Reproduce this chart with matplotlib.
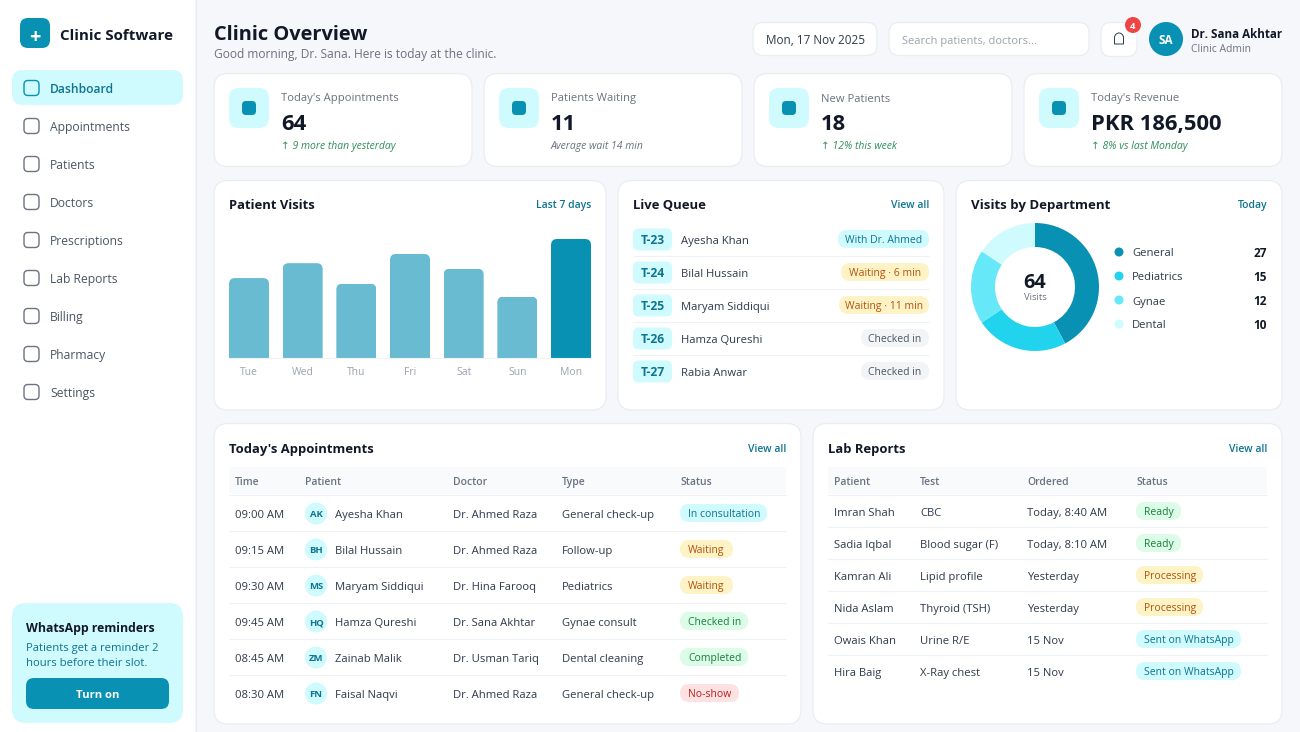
import matplotlib
matplotlib.use("Agg")
import matplotlib.pyplot as plt
from matplotlib.patches import FancyBboxPatch, Circle, PathPatch
from matplotlib.path import Path
from matplotlib.transforms import IdentityTransform

# ---------- data ----------
nav_items = ["Dashboard", "Appointments", "Patients", "Doctors", "Prescriptions",
             "Lab Reports", "Billing", "Pharmacy", "Settings"]
kpi_labels = ["Today's Appointments", "Patients Waiting", "New Patients", "Today's Revenue"]
kpi_values = ["64", "11", "18", "PKR 186,500"]
kpi_notes = ["↑ 9 more than yesterday", "Average wait 14 min", "↑ 12% this week", "↑ 8% vs last Monday"]
visit_days = ["Tue", "Wed", "Thu", "Fri", "Sat", "Sun", "Mon"]
visit_counts = [43, 51, 40, 56, 48, 33, 64]
queue_tokens = ["T-23", "T-24", "T-25", "T-26", "T-27"]
queue_names = ["Ayesha Khan", "Bilal Hussain", "Maryam Siddiqui", "Hamza Qureshi", "Rabia Anwar"]
queue_status = ["With Dr. Ahmed", "Waiting · 6 min", "Waiting · 11 min", "Checked in", "Checked in"]
queue_kind = ["cyan", "amber", "amber", "gray", "gray"]
dept_names = ["General", "Pediatrics", "Gynae", "Dental"]
dept_counts = [27, 15, 12, 10]
appt_headers = ["Time", "Patient", "Doctor", "Type", "Status"]
appt_times = ["09:00 AM", "09:15 AM", "09:30 AM", "09:45 AM", "08:45 AM", "08:30 AM"]
appt_initials = ["AK", "BH", "MS", "HQ", "ZM", "FN"]
appt_patients = ["Ayesha Khan", "Bilal Hussain", "Maryam Siddiqui", "Hamza Qureshi", "Zainab Malik", "Faisal Naqvi"]
appt_doctors = ["Dr. Ahmed Raza", "Dr. Ahmed Raza", "Dr. Hina Farooq", "Dr. Sana Akhtar", "Dr. Usman Tariq", "Dr. Ahmed Raza"]
appt_types = ["General check-up", "Follow-up", "Pediatrics", "Gynae consult", "Dental cleaning", "General check-up"]
appt_status = ["In consultation", "Waiting", "Waiting", "Checked in", "Completed", "No-show"]
appt_kind = ["cyan", "amber", "amber", "green", "green", "red"]
lab_headers = ["Patient", "Test", "Ordered", "Status"]
lab_patients = ["Imran Shah", "Sadia Iqbal", "Kamran Ali", "Nida Aslam", "Owais Khan", "Hira Baig"]
lab_tests = ["CBC", "Blood sugar (F)", "Lipid profile", "Thyroid (TSH)", "Urine R/E", "X-Ray chest"]
lab_ordered = ["Today, 8:40 AM", "Today, 8:10 AM", "Yesterday", "Yesterday", "15 Nov", "15 Nov"]
lab_status = ["Ready", "Ready", "Processing", "Processing", "Sent on WhatsApp", "Sent on WhatsApp"]
lab_kind = ["green", "green", "amber", "amber", "cyan", "cyan"]

# ---------- style ----------
FONT = "Open Sans"
PX = 0.72 * 0.90
BG = "#f5f7fb"; BORDER = "#e9edf3"; INK = "#111827"; BODY = "#2f3a4a"; MUTED = "#6b7280"
TEAL = "#0891b2"; TEAL_D = "#0e7490"; CYAN_L = "#cffafe"; GREEN = "#2f8f5b"
PILLS = {"cyan": ("#cffafe", "#0e7490"), "amber": ("#fef3c7", "#b45309"),
         "green": ("#dcfce7", "#15803d"), "red": ("#fee2e2", "#b91c1c"), "gray": ("#f3f4f6", "#4b5563")}
plt.rcParams["font.family"] = [FONT, "DejaVu Sans"]

fig = plt.figure(figsize=(13, 7.32), dpi=100, facecolor=BG)
ui = fig.add_axes([0, 0, 1, 1], zorder=0)
ui.set_xlim(0, 1300); ui.set_ylim(732, 0); ui.axis("off")


def box(x0, y0, x1, y1, r, fc="white", ec="none", lw=0.0, z=2):
    ui.add_patch(FancyBboxPatch((x0, y0), x1 - x0, y1 - y0,
                                boxstyle=f"round,pad=0,rounding_size={r}",
                                fc=fc, ec=ec, lw=lw, zorder=z))


def T(x, y, s, px=12.5, c=BODY, w="normal", ha="left", style="normal", z=5):
    ui.text(x, y + 0.36 * px, s, fontsize=px * PX, color=c, fontweight=w, ha=ha,
            va="baseline", fontstyle=style, zorder=z)


def card(x0, y0, x1, y1, r=14):
    box(x0, y0, x1, y1, r, fc="white", ec=BORDER, lw=0.9)


def hline(x0, x1, y, c="#eef1f5"):
    ui.plot([x0, x1], [y, y], color=c, lw=0.8, zorder=3, solid_capstyle="butt")


def pill(x0, x1, y, s, kind, px=11.5, text_x=None):
    bg, fg = PILLS[kind]
    box(x0, y - 9, x1, y + 9, 9, fc=bg, z=3)
    if text_x is None:
        T((x0 + x1) / 2, y, s, px, fg, ha="center")
    else:
        T(text_x, y, s, px, fg)


# ---------- sidebar ----------
ui.add_patch(plt.Rectangle((0, 0), 195, 732, fc="white", ec="none", zorder=1))
ui.plot([195.5, 195.5], [0, 732], color=BORDER, lw=0.8, zorder=1)
box(20, 18, 50, 48, 8, fc=TEAL)
T(35, 35, "+", 22, "white", "bold", ha="center")
T(60, 34, "Clinic Software", 16.8, INK, "bold")
box(12, 70, 183, 105, 11, fc=CYAN_L)
for i, name in enumerate(nav_items):
    yc = 88 + i * 38
    active = i == 0
    box(24, yc - 7.5, 39, yc + 7.5, 4, fc="none", ec=TEAL if active else "#6b7280", lw=1.0, z=4)
    T(50, yc, name, 13.5, TEAL_D if active else "#4b5563", "semibold" if active else "normal")
box(12, 603, 183, 723, 14, fc=CYAN_L)
T(26, 627, "WhatsApp reminders", 13.6, INK, "bold")
T(26, 646, "Patients get a reminder 2", 12.5, TEAL_D)
T(26, 661, "hours before their slot.", 12.5, TEAL_D)
box(26, 678, 169, 709, 8, fc=TEAL, z=3)
T(97.5, 693.5, "Turn on", 12.5, "white", "bold", ha="center")

# ---------- header ----------
T(214, 31.5, "Clinic Overview", 22.3, INK, "bold")
T(214, 53, "Good morning, Dr. Sana. Here is today at the clinic.", 13.3, MUTED)
box(753, 22.5, 877, 55.5, 10, ec=BORDER, lw=0.9)
T(815, 39.5, "Mon, 17 Nov 2025", 13, BODY, ha="center")
box(889, 22.5, 1089, 55.5, 10, ec=BORDER, lw=0.9)
T(902, 39.5, "Search patients, doctors...", 12.4, "#9ca3af")
box(1101, 22.5, 1137, 56.5, 10, ec=BORDER, lw=0.9)
bell = Path([(1114.5, 44), (1114.5, 38), (1114.5, 34.5), (1117, 33), (1119, 33), (1121, 33),
             (1123.5, 34.5), (1123.5, 38), (1123.5, 44), (1114.5, 44)],
            [Path.MOVETO, Path.LINETO, Path.CURVE4, Path.CURVE4, Path.CURVE4, Path.CURVE4,
             Path.CURVE4, Path.CURVE4, Path.LINETO, Path.CLOSEPOLY])
ui.add_patch(PathPatch(bell, fc="none", ec=BODY, lw=0.7, zorder=4))
ui.add_patch(Circle((1133, 25), 8, fc="#ef4444", ec="none", zorder=5))
T(1133, 25, "4", 10.5, "white", "bold", ha="center", z=6)
ui.add_patch(Circle((1166, 39), 17, fc=TEAL, ec="none", zorder=4))
T(1166, 39, "SA", 13, "white", "bold", ha="center")
T(1191, 33, "Dr. Sana Akhtar", 12.9, INK, "bold")
T(1191, 48, "Clinic Admin", 11.5, MUTED)

# ---------- KPI cards ----------
for i, x0 in enumerate([214, 484, 754, 1024]):
    card(x0, 73.5, x0 + 258, 166.5)
    box(x0 + 15, 88, x0 + 55, 128, 10, fc=CYAN_L, z=3)
    box(x0 + 28, 101, x0 + 42, 115, 4, fc=TEAL, z=4)
    T(x0 + 67, 97, kpi_labels[i], 12.5, MUTED)
    T(x0 + 67, 121, kpi_values[i], 24.5, INK, "bold")
    note_c = MUTED if i == 1 else GREEN
    T(x0 + 67, 145, kpi_notes[i], 11.5, note_c, style="italic")

# ---------- middle row ----------
card(214, 180.5, 606, 410)
T(229, 204, "Patient Visits", 14.5, INK, "bold")
T(591, 204, "Last 7 days", 11.5, TEAL_D, "semibold", ha="right")
card(618, 180.5, 944, 410)
T(633, 204, "Live Queue", 14.5, INK, "bold")
T(929, 204, "View all", 11.5, TEAL_D, "semibold", ha="right")
card(956, 180.5, 1282, 410)
T(971, 204, "Visits by Department", 14.7, INK, "bold")
T(1267, 204, "Today", 11.5, TEAL_D, "semibold", ha="right")

# bar chart on its own axes
BAR_X0, BAR_X1, BAR_BASE, BAR_TOP = 229, 591, 358, 239
bar_ax = fig.add_axes([BAR_X0 / 1300, 1 - BAR_BASE / 732, (BAR_X1 - BAR_X0) / 1300, (BAR_BASE - BAR_TOP) / 732], zorder=2)
bar_ax.patch.set_alpha(0)
bar_w = 0.745
bars = bar_ax.bar(range(len(visit_days)), visit_counts, width=bar_w,
                  color=["#69bbd1"] * (len(visit_days) - 1) + [TEAL])
bar_ax.set_xlim(-bar_w / 2, len(visit_days) - 1 + bar_w / 2)
bar_ax.set_ylim(0, max(visit_counts))
bar_ax.set_yticks([])
bar_ax.set_xticks(range(len(visit_days)), visit_days, fontsize=11.5 * PX, color="#9ca3af")
bar_ax.tick_params(axis="x", length=0, pad=6.2)
for s in ["top", "left", "right"]:
    bar_ax.spines[s].set_visible(False)
bar_ax.spines["bottom"].set_color("#eef1f5")
bar_ax.spines["bottom"].set_linewidth(0.8)
fig.canvas.draw()
for b in bars:
    e = b.get_window_extent()
    clip = FancyBboxPatch((e.x0, e.y0 - 12), e.width, e.height + 12,
                          boxstyle="round,pad=0,rounding_size=6",
                          transform=IdentityTransform())
    b.set_clip_path(clip)

# live queue
for i in range(len(queue_tokens)):
    yc = 239.5 + i * 33
    box(633, yc - 11, 672, yc + 11, 6, fc=CYAN_L, z=3)
    T(652.5, yc, queue_tokens[i], 13.5, TEAL_D, "bold", ha="center")
    T(681, yc, queue_names[i], 12.5, BODY)
    x_left = [838, 841, 839, 861, 861][i]
    pill(x_left, 929, yc - 0.5, queue_status[i], queue_kind[i])
    if i < len(queue_tokens) - 1:
        hline(633, 929, yc + 16.5)

# donut on its own axes
CX, CY, R = 1035, 287, 64
d_ax = fig.add_axes([(CX - R) / 1300, 1 - (CY + R) / 732, 2 * R / 1300, 2 * R / 732], zorder=2)
d_ax.pie(dept_counts, colors=[TEAL, "#22d3ee", "#67e8f9", CYAN_L], startangle=90, counterclock=False,
         radius=1, wedgeprops={"width": 24 / 64, "linewidth": 0})
d_ax.set_xlim(-1, 1); d_ax.set_ylim(-1, 1)
for i, name in enumerate(dept_names):
    yc = 252 + i * 24
    ui.add_patch(Circle((1119, yc), 4.5, fc=[TEAL, "#22d3ee", "#67e8f9", CYAN_L][i], ec="none", zorder=4))
    T(1132, yc, name, 12.5, BODY)
    T(1267, yc, str(dept_counts[i]), 13, INK, "bold", ha="right")
d_ax.text(0, 0.06, "64", fontsize=22 * PX, color=INK, fontweight="bold", ha="center", va="center")
d_ax.text(0, -0.17, "Visits", fontsize=10.5 * PX, color=MUTED, ha="center", va="center")

# ---------- bottom tables ----------
card(214, 423.5, 801, 724)
T(229, 448, "Today's Appointments", 14.5, INK, "bold")
T(786, 448, "View all", 11.5, TEAL_D, "semibold", ha="right")
box(229, 467, 786, 494, 2, fc="#f8fafc", z=3)
hline(229, 786, 494.5)
appt_x = [235, 305, 453, 562, 680]
for x, h in zip(appt_x, appt_headers):
    T(x, 481, h, 11.5, MUTED, "semibold")
appt_pill_x1 = [767, 733, 733, 748, 748, 739]
for i in range(len(appt_times)):
    yc = 513.5 + i * 36
    T(235, yc, appt_times[i], 12.5, BODY)
    ui.add_patch(Circle((316, yc), 11, fc=CYAN_L, ec="none", zorder=4))
    T(316, yc, appt_initials[i], 10.5, TEAL_D, "bold", ha="center")
    T(335, yc, appt_patients[i], 12.5, BODY)
    T(453, yc, appt_doctors[i], 12.5, BODY)
    T(562, yc, appt_types[i], 12.5, BODY)
    pill(680, appt_pill_x1[i], yc - 0.5, appt_status[i], appt_kind[i], text_x=688)
    if i < len(appt_times) - 1:
        hline(229, 786, yc + 17.5)

card(813, 423.5, 1282, 724)
T(828, 448, "Lab Reports", 14.5, INK, "bold")
T(1267, 448, "View all", 11.5, TEAL_D, "semibold", ha="right")
box(828, 467, 1267, 494, 2, fc="#f8fafc", z=3)
hline(828, 1267, 494.5)
lab_x = [834, 920, 1027, 1136]
for x, h in zip(lab_x, lab_headers):
    T(x, 481, h, 11.5, MUTED, "semibold")
lab_pill_x1 = [1181, 1181, 1203, 1203, 1241, 1241]
for i in range(len(lab_patients)):
    yc = 511.5 + i * 32
    T(834, yc, lab_patients[i], 12.5, BODY)
    T(920, yc, lab_tests[i], 12.5, BODY)
    T(1027, yc, lab_ordered[i], 12.5, BODY)
    pill(1136, lab_pill_x1[i], yc - 0.5, lab_status[i], lab_kind[i], text_x=1144)
    if i < len(lab_patients) - 1:
        hline(828, 1267, yc + 15.5)

fig.savefig("out.png", dpi=100, facecolor=BG)
